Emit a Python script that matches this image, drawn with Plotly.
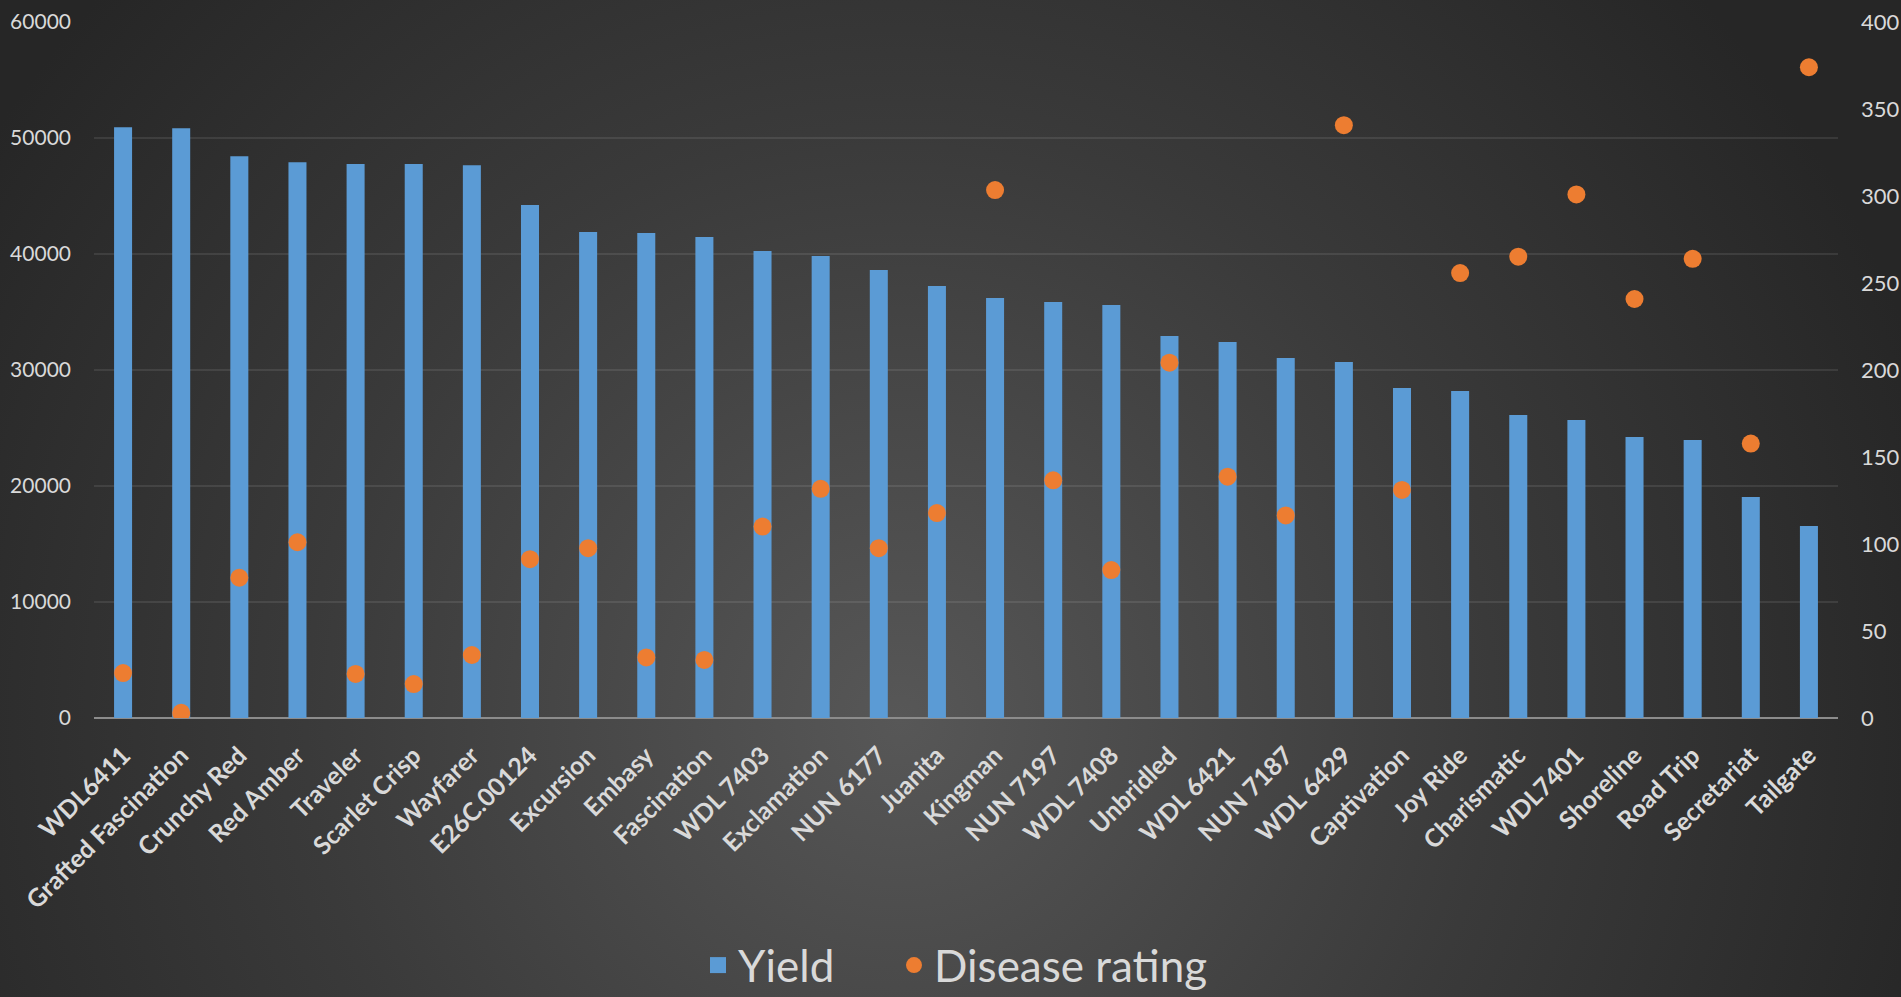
import plotly.graph_objects as go
from urllib.parse import quote

# ---- data ----
categories = ["WDL6411", "Grafted Fascination", "Crunchy Red", "Red Amber", "Traveler",
              "Scarlet Crisp", "Wayfarer", "E26C.00124", "Excursion", "Embasy",
              "Fascination", "WDL 7403", "Exclamation", "NUN 6177", "Juanita",
              "Kingman", "NUN 7197", "WDL 7408", "Unbridled", "WDL 6421",
              "NUN 7187", "WDL 6429", "Captivation", "Joy Ride", "Charismatic",
              "WDL7401", "Shoreline", "Road Trip", "Secretariat", "Tailgate"]
yield_values = [50930, 50840, 48430, 47920, 47750, 47750, 47660, 44220, 41890, 41810,
                41460, 40260, 39820, 38620, 37240, 36200, 35860, 35600, 32930, 32410,
                31030, 30690, 28450, 28190, 26120, 25690, 24230, 23970, 19060, 16560]
disease_values = [25.8, 3.0, 80.6, 101, 25.3, 19.5, 36.2, 91.3, 97.6, 34.8,
                  33.4, 110, 131.7, 97.6, 117.8, 303.4, 136.6, 85, 204.2, 138.7,
                  116.4, 340.7, 131.1, 255.7, 265.1, 300.9, 240.8, 263.9, 157.7, 374]
left_ticks = [0, 10000, 20000, 30000, 40000, 50000, 60000]
right_ticks = [0, 50, 100, 150, 200, 250, 300, 350, 400]

W, H = 1901, 997
ML, MR, MT, MB = 94, 63, 22, 279
PW, PH = W - ML - MR, H - MT - MB

FONT = "Lato"
TXT = "#d9d9d9"
BLUE = "#5b9bd5"
ORANGE = "#ed7d31"

fig = go.Figure()
fig.add_trace(go.Bar(x=categories, y=yield_values, name="Yield", showlegend=False,
                     marker=dict(color=BLUE, line=dict(width=0)), yaxis="y"))
# legend-only entry with a larger square key
fig.add_trace(go.Scatter(x=[None], y=[None], name="Yield", legend="legend", mode="markers",
                         marker=dict(color=BLUE, symbol="square", size=20, line=dict(width=0)),
                         yaxis="y"))
fig.add_trace(go.Scatter(x=categories, y=disease_values, name="Disease rating", legend="legend2",
                         mode="markers",
                         marker=dict(color=ORANGE, size=18, line=dict(width=0)), yaxis="y2"))

svg = (f"<svg xmlns='http://www.w3.org/2000/svg' width='{W}' height='{H}'>"
       "<defs><radialGradient id='g' gradientUnits='userSpaceOnUse' cx='900' cy='720' r='1080'>"
       "<stop offset='0' stop-color='#575757'/><stop offset='0.55' stop-color='#3a3a3a'/>"
       "<stop offset='1' stop-color='#262626'/></radialGradient></defs>"
       f"<rect width='{W}' height='{H}' fill='url(#g)'/></svg>")
bg_src = "data:image/svg+xml;charset=utf-8," + quote(svg)

legend_common = dict(orientation="h", xanchor="left", y=-(MB + 4) / PH, yanchor="bottom",
                     font=dict(size=44, color=TXT, family=FONT), bgcolor="rgba(0,0,0,0)",
                     itemsizing="trace")

fig.update_layout(
    template="none",
    width=W, height=H,
    margin=dict(l=ML, r=MR, t=MT, b=MB, pad=0, autoexpand=False),
    paper_bgcolor="#2a2a2a", plot_bgcolor="rgba(0,0,0,0)",
    font=dict(family=FONT, color=TXT),
    bargap=0.69,
    images=[dict(source=bg_src, xref="paper", yref="paper",
                 x=-ML / PW, y=1 + MT / PH, sizex=W / PW, sizey=H / PH,
                 xanchor="left", yanchor="top", sizing="stretch", layer="below")],
    xaxis=dict(range=[-0.5, len(categories) - 0.5], tickangle=-45,
               tickfont=dict(size=25, color=TXT, family=FONT, weight="bold"),
               showgrid=False, showline=False, zeroline=False, ticks="",
               ticklabelstandoff=17, automargin=False),
    yaxis=dict(range=[0, 60000], tickvals=left_ticks, ticktext=[str(v) for v in left_ticks],
               tickfont=dict(size=21, color=TXT), gridcolor="rgba(255,255,255,0.09)", gridwidth=2,
               zeroline=True, zerolinecolor="#8c8c8c", zerolinewidth=2, showline=False,
               ticks="", ticklabelstandoff=22, automargin=False),
    yaxis2=dict(range=[0, 400], tickvals=right_ticks, overlaying="y", side="right",
                tickfont=dict(size=22, color=TXT), showgrid=False, zeroline=False, showline=False,
                ticks="", ticklabelstandoff=22, automargin=False),
    legend=dict(x=(698 - ML) / PW, **legend_common),
    legend2=dict(x=(894 - ML) / PW, **legend_common),
    showlegend=True,
)

fig.write_html("out.html", config={"displayModeBar": False},
               post_script="document.body.style.margin='0';document.body.style.overflow='hidden';")
